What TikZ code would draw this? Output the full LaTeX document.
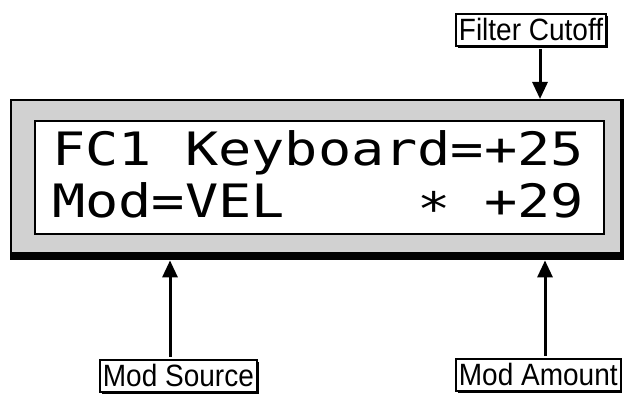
\documentclass[tikz,border=0pt]{standalone}
\usepackage{fontspec}
\usepackage{graphicx}
\setmainfont{Liberation Sans}
\newfontfamily\lcdfont{DejaVu Sans Mono}
\usetikzlibrary{arrows.meta,shadows}
\begin{document}
\begin{tikzpicture}[x=1pt,y=-1pt,
  lcdtext/.style={anchor=base west, inner sep=0pt, font=\lcdfont\fontsize{46}{46}\selectfont},
  lbl/.style={draw, line width=1.8pt, fill=white, inner xsep=3pt, inner ysep=0pt,
    minimum height=32pt, font=\fontsize{28}{28}\selectfont,
    general shadow={fill=black, shadow xshift=1.8pt, shadow yshift=-1.8pt}},
  arr/.style={line width=3pt, -{Triangle[width=15pt,length=17pt]}, shorten <=2pt},
  band/.style={fill=black!18},
  ]
\useasboundingbox (0,0) rectangle (628,398);
% display
\node[fill=black, inner sep=0pt, minimum width=614pt, minimum height=161pt, anchor=north west] (disp) at (10,99) {};
\fill[band] (12,101) rectangle (620,252);
\node[draw, line width=2pt, fill=white, inner sep=0pt, minimum width=569pt, minimum height=113pt, anchor=north west] (screen) at (34,120) {};
\node[lcdtext] (l1) at (52,165) {\scalebox{1.2}[1]{FC1 Keyboard=+25}};
\node[lcdtext] (l2) at (52,217) {\scalebox{1.2}[1]{Mod=VEL\ \ \ \ \raisebox{-8pt}{*}\ +29}};
% labels
\node[lbl, anchor=north west] (fc) at (455,13) {\scalebox{1}[1.1]{Filter Cutoff}};
\node[lbl, anchor=north west] (ms) at (99,359) {\scalebox{1}[1.1]{Mod Source}};
\node[lbl, anchor=north west] (ma) at (455,358) {\scalebox{1}[1.1]{Mod Amount}};
% arrow columns
\coordinate (fcx) at (540,0);
\coordinate (msx) at (170,0);
\coordinate (max) at (545,0);
% arrows
\draw[arr] (fc.south -| fcx) -- (fcx |- disp.north);
\draw[arr] (ms.north -| msx) -- (msx |- disp.south);
\draw[arr] (ma.north -| max) -- (max |- disp.south);
\end{tikzpicture}
\end{document}
